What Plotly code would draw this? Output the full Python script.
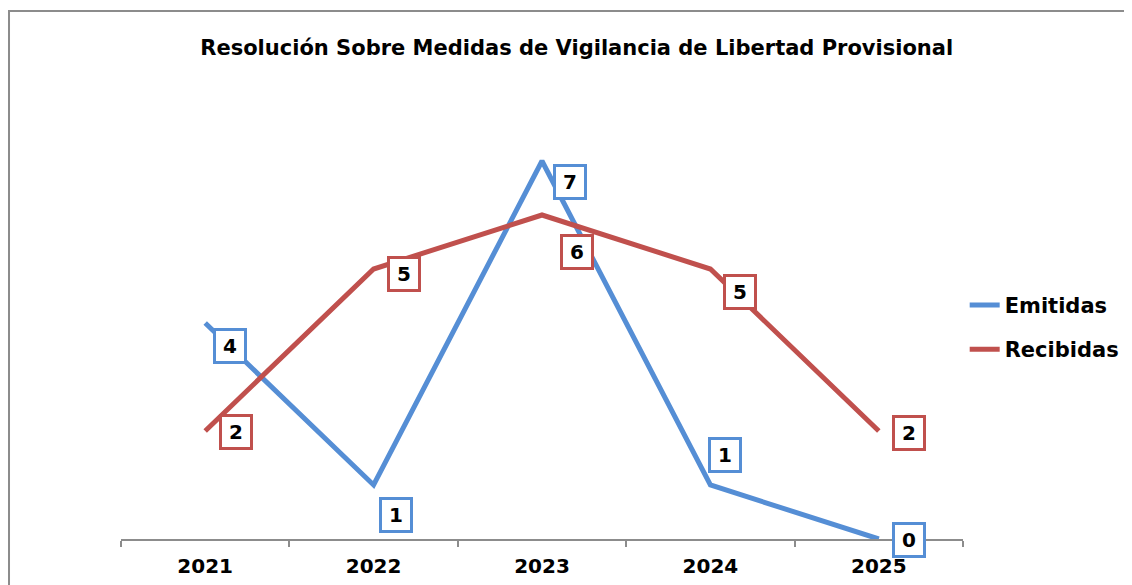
import plotly.graph_objects as go

years = ["2021", "2022", "2023", "2024", "2025"]
emitidas = [4, 1, 7, 1, 0]
recibidas = [2, 5, 6, 5, 2]

# label offsets in px (x, y) for each point
emitidas_shift = [(25, -23), (22, -30), (28, -21), (15, 30), (30, -1)]
recibidas_shift = [(31, -1), (30, -5), (35, -37), (30, -23), (30, -2)]

BLUE = "#558ED5"
RED = "#C0504D"
FONT = "DejaVu Sans"

fig = go.Figure()
fig.add_trace(go.Scatter(x=years, y=emitidas, mode="lines", name="<b>Emitidas</b>",
                         line=dict(color=BLUE, width=5), legendgroup="a"))
fig.add_trace(go.Scatter(x=years, y=recibidas, mode="lines", name="<b>Recibidas</b>",
                         line=dict(color=RED, width=5), legendgroup="b"))

for vals, shifts, color in [(emitidas, emitidas_shift, BLUE), (recibidas, recibidas_shift, RED)]:
    for i, (v, (dx, dy)) in enumerate(zip(vals, shifts)):
        fig.add_annotation(x=i, y=v, text=f"<b>{v}</b>", showarrow=False,
                           xshift=dx, yshift=dy, bgcolor="white",
                           width=26, height=28, align="center", valign="middle",
                           bordercolor=color, borderwidth=3, borderpad=1,
                           font=dict(family=FONT, size=20, color="black"))

# outer chart frame
fig.add_shape(type="rect", xref="paper", yref="paper", x0=-0.133, y0=-0.5,
              x1=1.5, y1=1.222, line=dict(color="#8c8c8c", width=2))

fig.update_layout(
    width=1124, height=577,
    margin=dict(l=113, r=169, t=99, b=46, autoexpand=False),
    paper_bgcolor="white", plot_bgcolor="white",
    font=dict(family=FONT, color="black"),
    title=dict(text="<b>Resolución Sobre Medidas de Vigilancia de Libertad Provisional</b>",
               x=0.506, xanchor="center", y=0.932, yanchor="middle",
               font=dict(size=21, family=FONT)),
    legend=dict(x=1.002, y=0.49, xanchor="left", yanchor="middle",
                font=dict(size=21, family=FONT), tracegroupgap=14),
    showlegend=True,
)
fig.update_xaxes(type="category", range=[-0.5, 4.5], showline=True,
                 linecolor="#8c8c8c", linewidth=2, tickangle=0,
                 ticks="outside", tickson="boundaries", ticklen=6, tickwidth=2,
                 tickcolor="#8c8c8c", showgrid=False, zeroline=False,
                 ticklabelstandoff=8,
                 tickfont=dict(size=20, family=FONT, weight="bold"))
fig.update_yaxes(range=[0, 8], visible=False, showgrid=False, zeroline=False)

fig.write_html("out.html")
